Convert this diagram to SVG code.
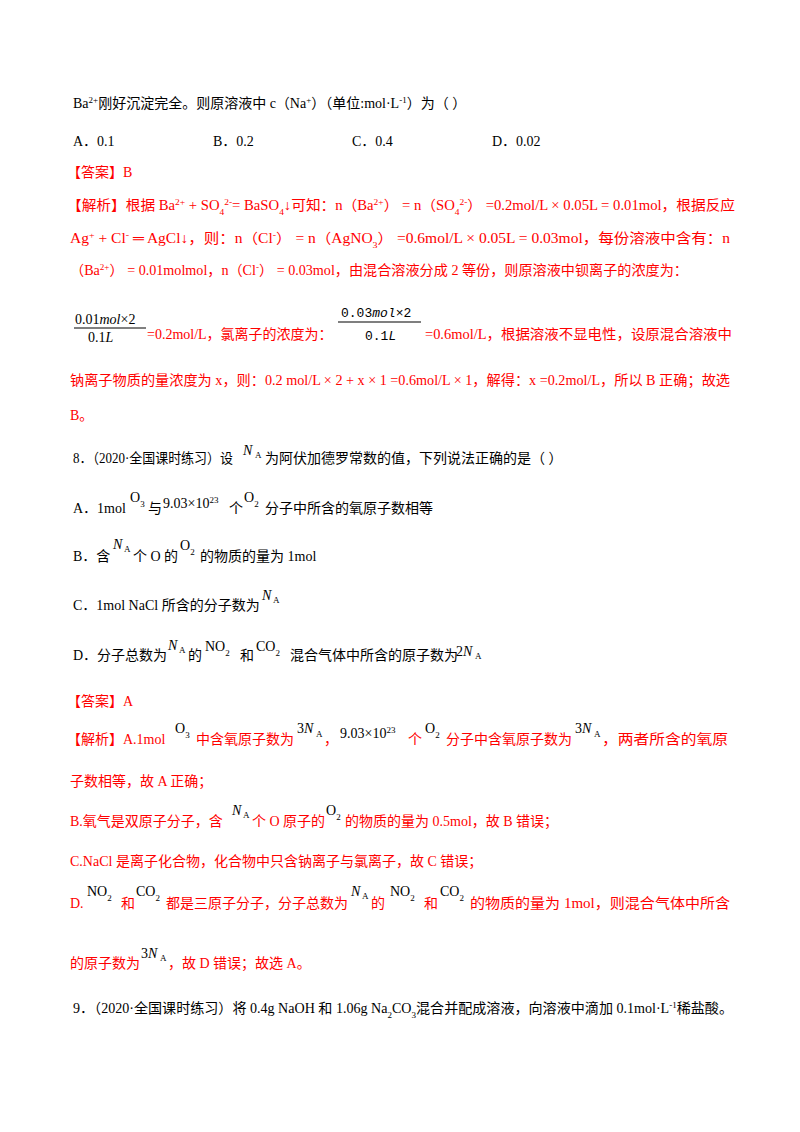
<svg xmlns="http://www.w3.org/2000/svg" width="800" height="1132" viewBox="0 0 800 1132">
<style>
text{font-family:"Liberation Serif","Noto Sans CJK SC",serif;font-size:14px;fill:#000}
.r{fill:#ff0000}
.s{font-size:9px}
.f{font-family:"Liberation Mono","Noto Sans CJK SC",monospace;font-size:13px}
.i{font-style:italic}
</style>
<rect width="800" height="1132" fill="#fff"/>
<text x="73" y="108">Ba<tspan class="s" baseline-shift="super">2+</tspan>刚好沉淀完全。则原溶液中 c（Na<tspan class="s" baseline-shift="super">+</tspan>）（单位:mol·L<tspan class="s" baseline-shift="super">-1</tspan>）为（  ）</text>
<text x="73" y="146">A．0.1</text><text x="213" y="146">B．0.2</text><text x="352" y="146">C．0.4</text><text x="492" y="146">D．0.02</text>
<text class="r" x="67" y="177">【答案】B</text>
<text class="r" x="67" y="210" textLength="668" lengthAdjust="spacingAndGlyphs">【解析】根据 Ba<tspan class="s" baseline-shift="super">2+</tspan> + SO<tspan class="s" baseline-shift="sub">4</tspan><tspan class="s" baseline-shift="super">2-</tspan>= BaSO<tspan class="s" baseline-shift="sub">4</tspan>↓可知：n（Ba<tspan class="s" baseline-shift="super">2+</tspan>） = n（SO<tspan class="s" baseline-shift="sub">4</tspan><tspan class="s" baseline-shift="super">2-</tspan>） =0.2mol/L × 0.05L = 0.01mol，根据反应</text>
<text class="r" x="70" y="243" textLength="660" lengthAdjust="spacingAndGlyphs">Ag<tspan class="s" baseline-shift="super">+</tspan> + Cl<tspan class="s" baseline-shift="super">-</tspan> ═ AgCl↓，则：n（Cl<tspan class="s" baseline-shift="super">-</tspan>） = n（AgNO<tspan class="s" baseline-shift="sub">3</tspan>） =0.6mol/L × 0.05L = 0.03mol，每份溶液中含有：n</text>
<text class="r" x="70" y="275" textLength="618" lengthAdjust="spacingAndGlyphs">（Ba<tspan class="s" baseline-shift="super">2+</tspan>） = 0.01molmol，n（Cl<tspan class="s" baseline-shift="super">-</tspan>） = 0.03mol，由混合溶液分成 2 等份，则原溶液中钡离子的浓度为：</text>
<g id="frac1">
<text x="75" y="324" font-size="13">0.01<tspan class="i">mol</tspan>×2</text>
<line x1="74" y1="328" x2="146" y2="328" stroke="#000" stroke-width="1"/>
<text x="88" y="342" font-size="13">0.1<tspan class="i">L</tspan></text>
</g>
<text class="r" x="147" y="339">=0.2mol/L，氯离子的浓度为：</text>
<g id="frac2">
<text class="f" x="341" y="317">0.03<tspan class="i">mol</tspan>×2</text>
<line x1="338" y1="322" x2="421" y2="322" stroke="#000" stroke-width="1.2"/>
<text class="f" x="365" y="340">0.1<tspan class="i">L</tspan></text>
</g>
<text class="r" x="425" y="339" textLength="307" lengthAdjust="spacingAndGlyphs">=0.6mol/L，根据溶液不显电性，设原混合溶液中</text>
<text class="r" x="70" y="385" textLength="660" lengthAdjust="spacingAndGlyphs">钠离子物质的量浓度为 x，则：0.2 mol/L × 2 + x × 1 =0.6mol/L × 1，解得：x =0.2mol/L，所以 B 正确；故选</text>
<text class="r" x="70" y="420">B。</text>
<text x="73" y="463" textLength="160" lengthAdjust="spacingAndGlyphs">8．（2020·全国课时练习）设</text>
<text x="243" y="455" class="i">N</text><text x="255" y="458" class="s">A</text>
<text x="265" y="463">为阿伏加德罗常数的值，下列说法正确的是（       ）</text>
<text x="73" y="513">A．1mol</text><text x="130" y="502">O<tspan class="s" baseline-shift="sub">3</tspan></text>
<text x="148" y="513">与</text><text x="163" y="508">9.03×10<tspan class="s" baseline-shift="super">23</tspan></text>
<text x="229" y="513">个</text><text x="244" y="502">O<tspan class="s" baseline-shift="sub">2</tspan></text>
<text x="265" y="513">分子中所含的氧原子数相等</text>
<text x="73" y="561">B．含</text><text x="113" y="549" class="i">N</text><text x="124" y="552" class="s">A</text>
<text x="133" y="561">个 O 的</text><text x="180" y="550">O<tspan class="s" baseline-shift="sub">2</tspan></text><text x="200" y="561">的物质的量为 1mol</text>
<text x="73" y="610">C．1mol NaCl 所含的分子数为</text><text x="262" y="600" class="i">N</text><text x="273" y="603" class="s">A</text>
<text x="73" y="660">D．分子总数为</text><text x="168" y="650" class="i">N</text><text x="179" y="653" class="s">A</text>
<text x="188" y="660">的</text><text x="205" y="651">NO<tspan class="s" baseline-shift="sub">2</tspan></text>
<text x="240" y="660">和</text><text x="256" y="651">CO<tspan class="s" baseline-shift="sub">2</tspan></text>
<text x="290" y="660">混合气体中所含的原子数为</text><text x="456" y="656">2<tspan class="i">N</tspan></text><text x="475" y="659" class="s">A</text>
<g>
<text class="r" x="67" y="706">【答案】A</text>
<text class="r" x="67" y="744">【解析】A.1mol</text>
<text x="175" y="733">O<tspan class="s" baseline-shift="sub">3</tspan></text>
<text class="r" x="196" y="744">中含氧原子数为</text>
<text x="297" y="733">3<tspan class="i">N</tspan></text><text x="316" y="737" class="s">A</text>
<text class="r" x="324" y="744">，</text>
<text x="340" y="738">9.03×10<tspan class="s" baseline-shift="super">23</tspan></text>
<text class="r" x="408" y="744">个</text>
<text x="425" y="733">O<tspan class="s" baseline-shift="sub">2</tspan></text>
<text class="r" x="446" y="744">分子中含氧原子数为</text>
<text x="575" y="733">3<tspan class="i">N</tspan></text><text x="594" y="737" class="s">A</text>
<text class="r" x="602" y="744" textLength="126" lengthAdjust="spacingAndGlyphs">，两者所含的氧原</text>
<text class="r" x="70" y="786">子数相等，故 A 正确；</text>
<text class="r" x="70" y="826">B.氧气是双原子分子，含</text>
<text x="232" y="815" class="i">N</text><text x="243" y="818" class="s">A</text>
<text class="r" x="252" y="826">个 O 原子的</text>
<text x="326" y="815">O<tspan class="s" baseline-shift="sub">2</tspan></text>
<text class="r" x="345" y="826">的物质的量为 0.5mol，故 B 错误；</text>
<text class="r" x="70" y="866">C.NaCl 是离子化合物，化合物中只含钠离子与氯离子，故 C 错误；</text>
<text class="r" x="70" y="908">D.</text>
<text x="87" y="896">NO<tspan class="s" baseline-shift="sub">2</tspan></text>
<text class="r" x="121" y="908">和</text>
<text x="136" y="896">CO<tspan class="s" baseline-shift="sub">2</tspan></text>
<text class="r" x="166" y="908">都是三原子分子，分子总数为</text>
<text x="351" y="896" class="i">N</text><text x="362" y="899" class="s">A</text>
<text class="r" x="371" y="908">的</text>
<text x="390" y="896">NO<tspan class="s" baseline-shift="sub">2</tspan></text>
<text class="r" x="424" y="908">和</text>
<text x="440" y="896">CO<tspan class="s" baseline-shift="sub">2</tspan></text>
<text class="r" x="470" y="908" textLength="260" lengthAdjust="spacingAndGlyphs">的物质的量为 1mol，则混合气体中所含</text>
<text class="r" x="70" y="968">的原子数为</text>
<text x="141" y="958">3<tspan class="i">N</tspan></text><text x="160" y="961" class="s">A</text>
<text class="r" x="168" y="968">，故 D 错误；故选 A。</text>
</g>
<text x="73" y="1013" textLength="660" lengthAdjust="spacingAndGlyphs">9．（2020·全国课时练习）将 0.4g NaOH 和 1.06g Na<tspan class="s" baseline-shift="sub">2</tspan>CO<tspan class="s" baseline-shift="sub">3</tspan>混合并配成溶液，向溶液中滴加 0.1mol·L<tspan class="s" baseline-shift="super">-1</tspan>稀盐酸。</text>
</svg>
